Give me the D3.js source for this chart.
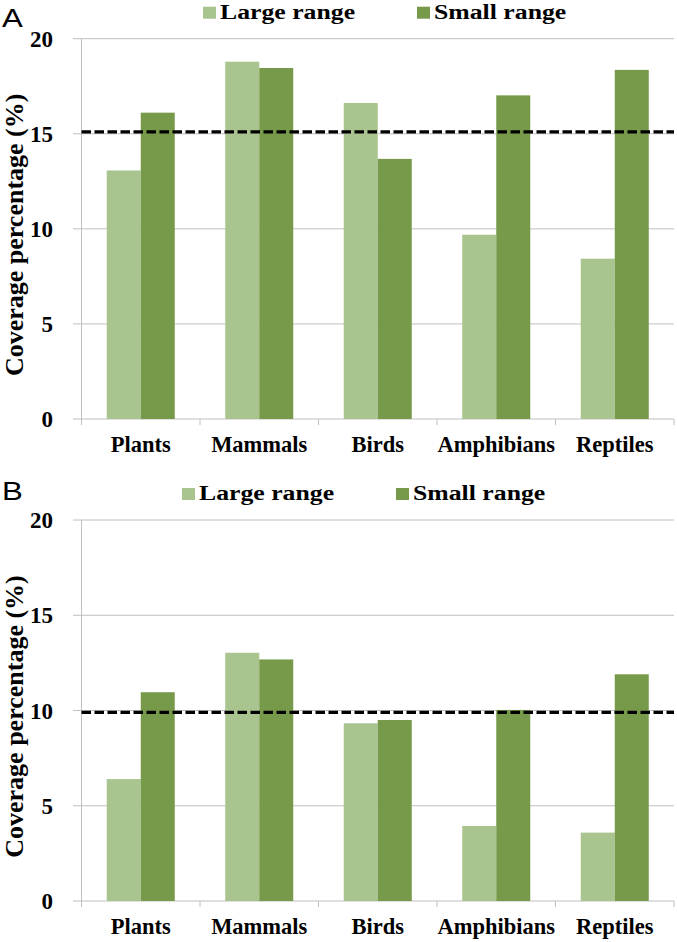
<!DOCTYPE html>
<html>
<head>
<meta charset="utf-8">
<script src="https://cdn.jsdelivr.net/npm/d3@7"></script>
<style>
  body { margin: 0; background: #fff; }
  svg { display: block; }
  .serif { font-family: "Liberation Serif", "Times New Roman", serif; font-weight: bold; }
</style>
</head>
<body>
<svg width="677" height="942"></svg>
<script>
// --- Data ---
const categories = ["Plants", "Mammals", "Birds", "Amphibians", "Reptiles"];
const seriesNames = ["Large range", "Small range"];
const largeA = [13.07, 18.79, 16.62, 9.69, 8.43];
const smallA = [16.11, 18.46, 13.68, 17.02, 18.36];
const largeB = [6.4, 13.03, 9.33, 3.94, 3.59];
const smallB = [10.96, 12.68, 9.5, 10.03, 11.9];
const refA = 15.1, refB = 9.9;
const yTicks = [0, 5, 10, 15, 20];

const colors = ["#a9c48f", "#779a4a"];
const gridColor = "#c0c0c0";

const svg = d3.select("svg");

const x0 = d3.scaleBand().domain(categories).range([81.5, 674])
  .paddingInner(0.426).paddingOuter(0.213);
const x1 = d3.scaleBand().domain(seriesNames).range([0, x0.bandwidth()]);
const step = x0.step();

// --- Draw one panel ---
function drawPanel(opts) {
  const { letter, large, small, ref, top, bottom, legendX } = opts;
  const y = d3.scaleLinear().domain([0, 20]).range([bottom, top]);
  const g = svg.append("g");

  // gridlines + tick labels
  g.selectAll("line.grid").data(yTicks).enter().append("line")
    .attr("x1", 73).attr("x2", 674)
    .attr("y1", d => y(d)).attr("y2", d => y(d))
    .attr("stroke", gridColor).attr("stroke-width", 1);
  g.selectAll("text.ytick").data(yTicks).enter().append("text")
    .attr("class", "serif")
    .attr("x", 53).attr("y", d => y(d) + 8)
    .attr("text-anchor", "end")
    .attr("font-size", "23px")
    .text(d => d);

  // y axis line
  g.append("line").attr("x1", 81.5).attr("x2", 81.5)
    .attr("y1", top).attr("y2", bottom + 6)
    .attr("stroke", gridColor);

  // x ticks at band boundaries
  const boundaries = d3.range(categories.length + 1).map(i => 81.5 + i * step);
  g.selectAll("line.xtick").data(boundaries).enter().append("line")
    .attr("x1", d => d).attr("x2", d => d)
    .attr("y1", bottom).attr("y2", bottom + 6)
    .attr("stroke", gridColor);

  // bars
  const rows = categories.map((c, i) => ({ cat: c, vals: [large[i], small[i]] }));
  const groups = g.selectAll("g.cat").data(rows).enter().append("g")
    .attr("transform", d => `translate(${x0(d.cat)},0)`);
  groups.selectAll("rect").data(d => d.vals.map((v, j) => ({ s: seriesNames[j], v, j })))
    .enter().append("rect")
      .attr("x", d => x1(d.s))
      .attr("width", x1.bandwidth())
      .attr("y", d => y(d.v))
      .attr("height", d => bottom - y(d.v))
      .attr("fill", d => colors[d.j]);

  // reference dashed line
  g.append("line")
    .attr("x1", 81.5).attr("x2", 674)
    .attr("y1", y(ref)).attr("y2", y(ref))
    .attr("stroke", "#000").attr("stroke-width", 3.2)
    .attr("stroke-dasharray", "9.5,3.5");

  // category labels
  g.selectAll("text.cat").data(categories).enter().append("text")
    .attr("class", "serif")
    .attr("x", d => x0(d) + x0.bandwidth() / 2)
    .attr("y", bottom + 33)
    .attr("text-anchor", "middle")
    .attr("font-size", "22.5px")
    .text(d => d);

  // y axis title
  g.append("text")
    .attr("class", "serif")
    .attr("transform", `translate(23,${(top + bottom) / 2 + 6}) rotate(-90)`)
    .attr("text-anchor", "middle")
    .attr("font-size", "26px")
    .text("Coverage percentage (%)");

  // legend
  const legendY = top - 20;
  legendX.forEach((lx, j) => {
    g.append("rect")
      .attr("x", lx).attr("y", legendY - 12)
      .attr("width", 13).attr("height", 12)
      .attr("fill", colors[j]);
    g.append("text")
      .attr("class", "serif")
      .attr("transform", `translate(${lx + 17},${legendY}) scale(1.17,1)`)
      .attr("font-size", "22px")
      .text(seriesNames[j]);
  });

  // panel letter
  g.append("text")
    .attr("transform", `translate(2,${opts.letterY}) scale(1.2,1)`)
    .attr("font-family", "Liberation Sans, Arial, sans-serif")
    .attr("font-size", "26px")
    .text(letter);
}

drawPanel({ letter: "A", large: largeA, small: smallA, ref: refA,
  top: 38.7, bottom: 419, legendX: [203, 417], letterY: 27 });
drawPanel({ letter: "B", large: largeB, small: smallB, ref: refB,
  top: 520, bottom: 901, legendX: [182, 396], letterY: 500 });
</script>
</body>
</html>
